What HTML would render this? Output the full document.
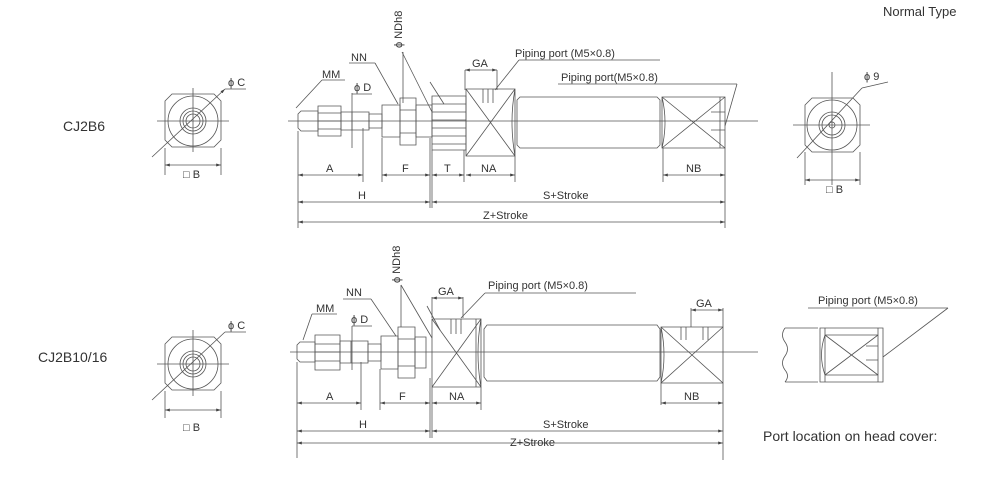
<!DOCTYPE html>
<html><head><meta charset="utf-8"><style>
html,body{margin:0;padding:0;background:#fff;}
svg{display:block;}
text{font-family:"Liberation Sans",sans-serif;fill:#333;}
</style></head><body>
<svg width="1000" height="477" viewBox="0 0 1000 477" xmlns="http://www.w3.org/2000/svg">
<defs>
<marker id="a" viewBox="0 0 10 10" refX="10" refY="5" markerWidth="6" markerHeight="6" orient="auto-start-reverse"><path d="M0,2 L10,5 L0,8 z" fill="#444"/></marker>
</defs>
<g stroke="#555" stroke-width="0.8" fill="none">
<!-- TOP left end view -->
<path d="M172,94 H214 L221,101 V140 L214,147 H172 L165,140 V101 Z"/>
<circle cx="193" cy="121" r="25"/>
<circle cx="193" cy="121" r="13"/><circle cx="193" cy="121" r="10"/><circle cx="193" cy="121" r="7"/>
<line x1="157" y1="121" x2="229" y2="121"/><line x1="193" y1="88" x2="193" y2="152"/>
<line x1="152" y1="157" x2="225" y2="89" marker-end="url(#a)"/><line x1="225" y1="89" x2="246" y2="89"/>
<line x1="165" y1="148" x2="165" y2="175"/><line x1="221" y1="148" x2="221" y2="175"/>
<line x1="165" y1="165" x2="221" y2="165" marker-start="url(#a)" marker-end="url(#a)"/>
<!-- TOP right end view -->
<path d="M812,98 H853 L860,105 V145 L853,152 H812 L805,145 V105 Z"/>
<circle cx="832" cy="125" r="25"/><circle cx="832" cy="125" r="13"/><circle cx="832" cy="125" r="10"/><circle cx="832" cy="125" r="3"/>
<line x1="793" y1="125" x2="870" y2="125"/><line x1="832" y1="72" x2="832" y2="185"/>
<line x1="797" y1="158" x2="862" y2="88"/><line x1="862" y1="88" x2="888" y2="82"/>
<line x1="805" y1="152" x2="805" y2="185"/><line x1="860" y1="152" x2="860" y2="185"/>
<line x1="805" y1="180" x2="860" y2="180" marker-start="url(#a)" marker-end="url(#a)"/>
<!-- TOP cylinder -->
<line x1="288" y1="121" x2="758" y2="121"/>
<path d="M298,114 L301,111 H318 V131 H301 L298,128 Z"/>
<path d="M318,106 H341 V136 H318 Z M318,113 H341 M318,121 H341 M318,129 H341"/>
<path d="M341,112 H369 V130 H341 Z M352,112 V130"/>
<path d="M369,114 H382 V128 H369 Z"/>
<path d="M382,105 H400 V137 H382 Z"/>
<path d="M400,98 H416 V145 H400 Z M400,110 H416 M400,133 H416"/>
<path d="M416,105 H432 V137 H416 Z"/>
<path d="M432,96 H466 V150 H432 Z M432,104 H466 M432,112 H466 M432,120 H466 M432,128 H466 M432,136 H466 M432,144 H466"/>
<path d="M466,89 H515 V156 H466 Z M466,89 L515,156 M515,89 L466,156 M483,89 V103 M488,89 V103 M493,89 V103 M515,89 Q509,122 515,156"/>
<path d="M517,100 L520,97 H657 L660,100 V145 L657,148 H520 L517,145 Z"/>
<path d="M662,97 H725 V148 H662 Z M662,97 L725,148 M725,97 L662,148 M711,112 H725 M711,130 H725 M662,97 Q668,122 662,148 M720,97 V148"/>
<!-- leaders top -->
<line x1="296" y1="108" x2="322" y2="80"/><line x1="322" y1="80" x2="345" y2="80"/>
<line x1="352" y1="93" x2="352" y2="148"/><line x1="352" y1="94" x2="372" y2="94"/>
<line x1="349" y1="63" x2="375" y2="63"/><line x1="375" y1="63" x2="398" y2="104"/>
<line x1="403" y1="52" x2="403" y2="103"/>
<line x1="402" y1="52" x2="432" y2="112"/>
<line x1="430" y1="82" x2="444" y2="104"/>
<line x1="465" y1="70" x2="465" y2="90"/><line x1="497" y1="70" x2="497" y2="90"/>
<line x1="465" y1="70" x2="497" y2="70" marker-start="url(#a)" marker-end="url(#a)"/>
<line x1="495" y1="90" x2="519" y2="60"/><line x1="519" y1="60" x2="660" y2="60"/>
<line x1="558" y1="84" x2="737" y2="84"/><line x1="737" y1="84" x2="725" y2="126"/>
<!-- dims top -->
<line x1="298" y1="131" x2="298" y2="228"/><line x1="363" y1="128" x2="363" y2="182"/>
<line x1="382" y1="138" x2="382" y2="182"/><line x1="430" y1="138" x2="430" y2="208"/>
<line x1="432" y1="150" x2="432" y2="208"/><line x1="464" y1="150" x2="464" y2="182"/>
<line x1="515" y1="156" x2="515" y2="182"/><line x1="663" y1="148" x2="663" y2="182"/>
<line x1="725" y1="148" x2="725" y2="228"/>
<line x1="298" y1="175" x2="363" y2="175" marker-start="url(#a)" marker-end="url(#a)"/>
<line x1="382" y1="175" x2="430" y2="175" marker-start="url(#a)" marker-end="url(#a)"/>
<line x1="432" y1="175" x2="464" y2="175" marker-start="url(#a)" marker-end="url(#a)"/>
<line x1="466" y1="175" x2="515" y2="175" marker-start="url(#a)" marker-end="url(#a)"/>
<line x1="663" y1="175" x2="725" y2="175" marker-start="url(#a)" marker-end="url(#a)"/>
<line x1="298" y1="202" x2="430" y2="202" marker-start="url(#a)" marker-end="url(#a)"/>
<line x1="432" y1="202" x2="725" y2="202" marker-start="url(#a)" marker-end="url(#a)"/>
<line x1="298" y1="222" x2="725" y2="222" marker-start="url(#a)" marker-end="url(#a)"/>
<!-- BOTTOM left end view -->
<path d="M172,337 H214 L221,344 V383 L214,390 H172 L165,383 V344 Z"/>
<circle cx="193" cy="364" r="25"/><circle cx="193" cy="364" r="13"/><circle cx="193" cy="364" r="10"/><circle cx="193" cy="364" r="7"/>
<line x1="157" y1="364" x2="229" y2="364"/><line x1="193" y1="330" x2="193" y2="396"/>
<line x1="152" y1="400" x2="225" y2="332"/><line x1="225" y1="332" x2="246" y2="332"/>
<line x1="165" y1="391" x2="165" y2="418"/><line x1="221" y1="391" x2="221" y2="418"/>
<line x1="165" y1="410" x2="221" y2="410" marker-start="url(#a)" marker-end="url(#a)"/>
<!-- BOTTOM cylinder -->
<line x1="290" y1="352" x2="758" y2="352"/>
<path d="M297,345 L300,342 H315 V362 H300 L297,359 Z"/>
<path d="M315,335 H340 V370 H315 Z M315,344 H340 M315,352 H340 M315,361 H340"/>
<path d="M340,341 H368 V363 H340 Z M351,341 V363"/>
<path d="M368,344 H381 V361 H368 Z"/>
<path d="M381,336 H398 V369 H381 Z"/>
<path d="M398,327 H415 V378 H398 Z M398,339 H415 M398,366 H415"/>
<path d="M415,337 H426 V368 H415 Z"/>
<path d="M432,319 H481 V387 H432 Z M432,319 L481,387 M481,319 L432,387 M451,319 V334 M456,319 V334 M461,319 V334 M476,319 V387 M481,319 Q475,353 481,387"/>
<path d="M484,329 L487,325 H657 L660,329 V377 L657,381 H487 L484,377 Z"/>
<path d="M661,327 H723 V383 H661 Z M661,327 L723,383 M723,327 L661,383 M681,327 V340 M686,327 V340 M703,327 V340 M708,327 V340 M661,327 Q667,355 661,383"/>
<!-- leaders bottom -->
<line x1="303" y1="340" x2="312" y2="314"/><line x1="312" y1="314" x2="337" y2="314"/>
<line x1="352" y1="326" x2="352" y2="370"/><line x1="352" y1="326" x2="372" y2="326"/>
<line x1="343" y1="299" x2="371" y2="299"/><line x1="371" y1="299" x2="396" y2="336"/>
<line x1="401" y1="285" x2="401" y2="327"/>
<line x1="401" y1="285" x2="432" y2="338"/>
<line x1="427" y1="306" x2="440" y2="330"/>
<line x1="432" y1="297" x2="432" y2="318"/><line x1="463" y1="297" x2="463" y2="318"/>
<line x1="432" y1="298" x2="463" y2="298" marker-start="url(#a)" marker-end="url(#a)"/>
<line x1="461" y1="318" x2="485" y2="293"/><line x1="485" y1="293" x2="636" y2="293"/>
<line x1="691" y1="308" x2="691" y2="327"/><line x1="723" y1="308" x2="723" y2="327"/>
<line x1="691" y1="310" x2="723" y2="310" marker-start="url(#a)" marker-end="url(#a)"/>
<!-- dims bottom -->
<line x1="297" y1="362" x2="297" y2="458"/><line x1="361" y1="362" x2="361" y2="410"/>
<line x1="380" y1="369" x2="380" y2="410"/><line x1="430" y1="378" x2="430" y2="438"/>
<line x1="432" y1="387" x2="432" y2="438"/><line x1="481" y1="387" x2="481" y2="410"/>
<line x1="661" y1="383" x2="661" y2="405"/><line x1="723" y1="383" x2="723" y2="460"/>
<line x1="297" y1="403" x2="361" y2="403" marker-start="url(#a)" marker-end="url(#a)"/>
<line x1="380" y1="403" x2="430" y2="403" marker-start="url(#a)" marker-end="url(#a)"/>
<line x1="432" y1="403" x2="481" y2="403" marker-start="url(#a)" marker-end="url(#a)"/>
<line x1="661" y1="403" x2="723" y2="403" marker-start="url(#a)" marker-end="url(#a)"/>
<line x1="297" y1="431" x2="430" y2="431" marker-start="url(#a)" marker-end="url(#a)"/>
<line x1="432" y1="431" x2="723" y2="431" marker-start="url(#a)" marker-end="url(#a)"/>
<line x1="297" y1="443" x2="723" y2="443" marker-start="url(#a)" marker-end="url(#a)"/>
<!-- port detail bottom right -->
<path d="M785,328 H818 M785,382 H818 M785,328 Q780,335 785,342 Q790,349 785,356 Q780,363 785,370 Q790,376 785,382"/>
<path d="M820,328 H883 V382 H820 Z M825,328 V382 M878,328 V382 M825,335 H878 M825,375 H878 M825,335 L878,375 M878,335 L825,375 M825,335 Q818,355 825,375 M866,346 H878 M866,360 H878"/>
<line x1="808" y1="308" x2="948" y2="308"/><line x1="948" y1="308" x2="883" y2="357"/>
</g>
<g font-size="11">
<text x="883" y="16" font-size="13">Normal Type</text>
<text x="63" y="131" font-size="14">CJ2B6</text>
<text x="38" y="362" font-size="14">CJ2B10/16</text>
<text x="228" y="86">ϕ C</text>
<text x="183" y="178">□ B</text>
<text x="228" y="329">ϕ C</text>
<text x="183" y="431">□ B</text>
<text x="864" y="80">ϕ 9</text>
<text x="826" y="193">□ B</text>
<text x="322" y="78">MM</text><text x="354" y="91">ϕ D</text><text x="351" y="61">NN</text>
<text transform="translate(402,48) rotate(-90)">ϕ NDh8</text>
<text x="472" y="67">GA</text>
<text x="515" y="57">Piping port (M5×0.8)</text>
<text x="561" y="81">Piping port(M5×0.8)</text>
<text x="326" y="172">A</text><text x="402" y="172">F</text><text x="444" y="172">T</text><text x="481" y="172">NA</text><text x="686" y="172">NB</text>
<text x="358" y="199">H</text><text x="543" y="199">S+Stroke</text><text x="483" y="219">Z+Stroke</text>
<text x="316" y="312">MM</text><text x="351" y="323">ϕ D</text><text x="346" y="296">NN</text>
<text transform="translate(400,283) rotate(-90)">ϕ NDh8</text>
<text x="438" y="295">GA</text><text x="696" y="307">GA</text>
<text x="488" y="289">Piping port (M5×0.8)</text>
<text x="326" y="400">A</text><text x="399" y="400">F</text><text x="449" y="400">NA</text><text x="684" y="400">NB</text>
<text x="359" y="428">H</text><text x="543" y="428">S+Stroke</text><text x="510" y="446">Z+Stroke</text>
<text x="818" y="304">Piping port (M5×0.8)</text>
<text x="763" y="441" font-size="14">Port location on head cover:</text>
</g>
</svg>
</body></html>
